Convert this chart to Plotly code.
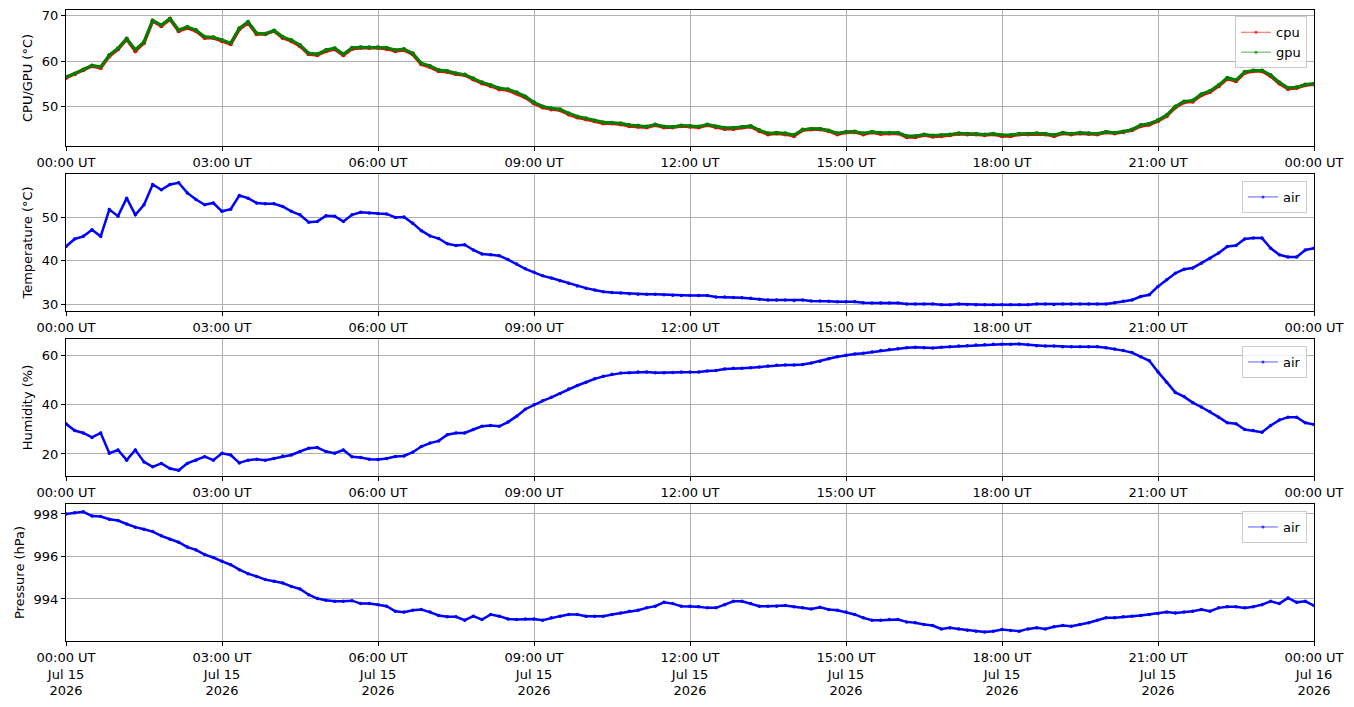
"""Raspberry Pi sensor log for one day: CPU/GPU, air temperature, humidity and pressure."""

import pandas as pd
import plotly.graph_objects as go
from plotly.subplots import make_subplots

# samples every 10 minutes, 2026-07-15 00:00 UT to 2026-07-16 00:00 UT
times = pd.date_range("2026-07-15 00:00", periods=145, freq="10min")

cpu = [
    56.4, 57.2, 58.1, 59.0, 58.6, 61.2,
    62.7, 64.9, 62.3, 64.1, 68.9, 67.8,
    69.3, 66.7, 67.4, 66.7, 65.2, 65.2,
    64.5, 63.8, 67.1, 68.5, 66.0, 66.0,
    66.7, 65.2, 64.5, 63.4, 61.6, 61.4,
    62.3, 62.7, 61.4, 62.8, 63.0, 63.0,
    63.0, 62.8, 62.3, 62.5, 61.6, 59.4,
    58.8, 57.9, 57.7, 57.2, 57.0, 56.1,
    55.2, 54.6, 53.9, 53.7, 53.0, 52.1,
    50.8, 49.9, 49.5, 49.3, 48.4, 47.7,
    47.3, 46.9, 46.4, 46.4, 46.2, 45.8,
    45.7, 45.5, 46.0, 45.5, 45.5, 45.8,
    45.7, 45.5, 46.0, 45.5, 45.2, 45.2,
    45.5, 45.7, 44.7, 44.0, 44.2, 44.0,
    43.6, 44.9, 45.1, 45.1, 44.7, 44.0,
    44.4, 44.5, 44.0, 44.4, 44.1, 44.2,
    44.2, 43.4, 43.4, 43.8, 43.5, 43.6,
    43.8, 44.1, 44.0, 44.0, 43.8, 44.0,
    43.6, 43.6, 44.0, 44.0, 44.1, 44.0,
    43.6, 44.2, 44.0, 44.2, 44.1, 44.0,
    44.4, 44.2, 44.5, 44.9, 45.8, 46.1,
    46.9, 48.0, 49.9, 51.0, 51.2, 52.6,
    53.3, 54.6, 56.2, 55.7, 57.5, 57.9,
    57.9, 56.8, 55.2, 54.0, 54.2, 54.8,
    55.0,
]

gpu = [
    56.6, 57.3, 58.2, 59.1, 58.8, 61.4,
    62.9, 65.0, 62.6, 64.3, 69.0, 68.0,
    69.4, 66.9, 67.6, 66.9, 65.4, 65.3,
    64.7, 64.0, 67.3, 68.7, 66.2, 66.1,
    66.8, 65.4, 64.7, 63.6, 61.8, 61.6,
    62.5, 62.9, 61.6, 63.0, 63.1, 63.1,
    63.1, 63.0, 62.5, 62.7, 61.8, 59.6,
    59.0, 58.1, 57.9, 57.4, 57.1, 56.3,
    55.4, 54.8, 54.1, 53.9, 53.2, 52.3,
    51.0, 50.1, 49.7, 49.5, 48.6, 47.9,
    47.5, 47.0, 46.6, 46.5, 46.4, 46.0,
    45.9, 45.7, 46.1, 45.7, 45.6, 45.9,
    45.8, 45.7, 46.1, 45.7, 45.4, 45.4,
    45.6, 45.8, 44.9, 44.2, 44.3, 44.2,
    43.8, 45.0, 45.2, 45.2, 44.8, 44.2,
    44.5, 44.6, 44.2, 44.5, 44.3, 44.3,
    44.3, 43.6, 43.6, 43.9, 43.7, 43.8,
    43.9, 44.2, 44.1, 44.1, 43.9, 44.1,
    43.8, 43.8, 44.1, 44.1, 44.2, 44.1,
    43.8, 44.3, 44.1, 44.3, 44.2, 44.1,
    44.5, 44.3, 44.6, 45.0, 46.0, 46.3,
    47.1, 48.2, 50.1, 51.2, 51.4, 52.8,
    53.5, 54.8, 56.4, 55.9, 57.7, 58.0,
    58.0, 57.0, 55.4, 54.2, 54.3, 54.9,
    55.1,
]

temperature = [
    43.3, 45.0, 45.6, 47.1, 45.6, 51.7,
    50.2, 54.3, 50.5, 52.8, 57.4, 56.2,
    57.4, 57.8, 55.5, 54.0, 52.8, 53.2,
    51.3, 51.8, 54.9, 54.3, 53.2, 53.0,
    53.0, 52.4, 51.3, 50.5, 48.8, 49.0,
    50.3, 50.2, 49.0, 50.5, 51.1, 50.9,
    50.8, 50.7, 49.9, 50.0, 48.6, 46.9,
    45.7, 45.1, 43.9, 43.5, 43.7, 42.5,
    41.6, 41.4, 41.2, 40.3, 39.3, 38.2,
    37.4, 36.6, 36.1, 35.5, 34.9, 34.3,
    33.8, 33.4, 33.0, 32.8, 32.7, 32.5,
    32.4, 32.4, 32.4, 32.3, 32.2, 32.1,
    32.1, 32.1, 32.1, 31.8, 31.8, 31.7,
    31.6, 31.5, 31.3, 31.1, 31.1, 31.1,
    31.0, 31.1, 30.9, 30.9, 30.8, 30.7,
    30.7, 30.7, 30.5, 30.4, 30.4, 30.4,
    30.4, 30.2, 30.2, 30.2, 30.2, 30.0,
    30.0, 30.2, 30.1, 30.0, 30.0, 30.0,
    30.0, 30.0, 30.0, 30.0, 30.2, 30.2,
    30.1, 30.2, 30.2, 30.2, 30.2, 30.2,
    30.2, 30.5, 30.8, 31.1, 31.9, 32.3,
    34.2, 35.7, 37.2, 38.1, 38.4, 39.5,
    40.6, 41.8, 43.3, 43.5, 45.0, 45.2,
    45.2, 42.9, 41.4, 40.9, 40.9, 42.5,
    42.9,
]

humidity = [
    32.2, 29.5, 28.5, 26.7, 28.5, 20.3,
    21.6, 17.5, 21.6, 16.8, 14.8, 16.2,
    14.1, 13.4, 16.2, 17.5, 18.9, 17.5,
    20.3, 19.6, 16.4, 17.5, 17.9, 17.5,
    18.2, 19.2, 19.6, 21.0, 22.3, 22.6,
    21.0, 20.3, 21.6, 18.9, 18.6, 17.9,
    17.8, 18.2, 19.0, 19.2, 20.7, 23.0,
    24.4, 25.3, 27.8, 28.5, 28.5, 29.9,
    31.2, 31.5, 31.2, 32.9, 35.3, 38.1,
    39.9, 41.5, 42.9, 44.5, 46.3, 47.7,
    49.0, 50.4, 51.4, 52.2, 52.7, 52.9,
    53.2, 53.2, 52.9, 52.9, 53.0, 53.2,
    53.2, 53.2, 53.6, 53.8, 54.4, 54.7,
    54.7, 54.9, 55.2, 55.6, 55.9, 56.0,
    56.0, 56.2, 56.8, 57.5, 58.5, 59.3,
    59.9, 60.4, 60.7, 61.2, 61.8, 62.3,
    62.6, 63.0, 63.2, 63.0, 62.9, 63.2,
    63.4, 63.7, 63.8, 64.1, 64.2, 64.4,
    64.4, 64.4, 64.5, 64.2, 63.8, 63.7,
    63.7, 63.4, 63.4, 63.4, 63.4, 63.4,
    63.0, 62.5, 61.8, 61.0, 59.3, 57.7,
    53.2, 49.0, 44.9, 43.2, 40.8, 39.0,
    37.1, 34.9, 32.6, 32.2, 29.9, 29.5,
    28.8, 31.5, 33.7, 34.9, 34.9, 32.6,
    31.9,
]

pressure = [
    998.00, 998.06, 998.10, 997.90, 997.88, 997.75,
    997.69, 997.53, 997.38, 997.28, 997.17, 996.97,
    996.81, 996.67, 996.44, 996.31, 996.09, 995.95,
    995.77, 995.61, 995.38, 995.19, 995.06, 994.91,
    994.83, 994.75, 994.59, 994.47, 994.20, 994.02,
    993.94, 993.89, 993.89, 993.92, 993.78, 993.78,
    993.73, 993.66, 993.42, 993.38, 993.47, 993.50,
    993.38, 993.22, 993.16, 993.16, 993.00, 993.19,
    993.03, 993.27, 993.19, 993.06, 993.03, 993.06,
    993.06, 993.00, 993.11, 993.19, 993.27, 993.27,
    993.19, 993.19, 993.19, 993.27, 993.34, 993.42,
    993.47, 993.58, 993.66, 993.84, 993.78, 993.66,
    993.66, 993.63, 993.58, 993.58, 993.73, 993.89,
    993.89, 993.78, 993.66, 993.66, 993.66, 993.69,
    993.63, 993.58, 993.53, 993.61, 993.50, 993.47,
    993.38, 993.27, 993.11, 993.00, 993.00, 993.03,
    993.03, 992.92, 992.88, 992.80, 992.75, 992.59,
    992.64, 992.59, 992.53, 992.48, 992.44, 992.48,
    992.56, 992.52, 992.48, 992.59, 992.64, 992.59,
    992.69, 992.75, 992.72, 992.80, 992.88, 993.00,
    993.11, 993.11, 993.16, 993.19, 993.22, 993.27,
    993.31, 993.38, 993.34, 993.38, 993.42, 993.50,
    993.42, 993.58, 993.63, 993.63, 993.58, 993.63,
    993.73, 993.89, 993.78, 994.05, 993.84, 993.89,
    993.69,
]

tick_times = pd.date_range("2026-07-15 00:00", "2026-07-16 00:00", freq="3h")
tick_text = [t.strftime("%H:%M UT") for t in tick_times]
tick_text_bottom = [t.strftime("%H:%M UT<br>%b %d<br>%Y") for t in tick_times]

FONT = "DejaVu Sans"
GRID = "#b0b0b0"


def add_series(fig, row, y, name, color, legend, width):
    # thick band of dots for the data, thin line+dot for the legend key
    fig.add_trace(go.Scatter(
        x=times, y=y, mode="lines+markers", name=name,
        line={"color": color, "width": width},
        marker={"color": color, "size": width + 1},
        showlegend=False,
    ), row=row, col=1)
    fig.add_trace(go.Scatter(
        x=[None], y=[None], mode="lines+markers", name=name,
        line={"color": color, "width": 0.8},
        marker={"color": color, "size": 3},
        opacity=0.8, legend=legend,
    ), row=row, col=1)


def main():
    fig = make_subplots(rows=4, cols=1)

    add_series(fig, 1, cpu, "cpu", "red", "legend", 3.5)
    add_series(fig, 1, gpu, "gpu", "green", "legend", 3)
    add_series(fig, 2, temperature, "air", "blue", "legend2", 2.5)
    add_series(fig, 3, humidity, "air", "blue", "legend3", 2.5)
    add_series(fig, 4, pressure, "air", "blue", "legend4", 2.5)

    domains = [[0.7845, 1.0], [0.523, 0.7401], [0.2615, 0.4786], [0.0, 0.2171]]
    y_ranges = [[41.4, 71.3], [28.6, 59.8], [11.1, 66.5], [992.02, 998.47]]
    y_ticks = [[50, 60, 70], [30, 40, 50], [20, 40, 60], [994, 996, 998]]
    y_titles = ["CPU/GPU (°C)", "Temperature (°C)", "Humidity (%)", "Pressure (hPa)"]
    legend_tops = [0.99, 0.729, 0.4675, 0.206]

    axis_style = dict(
        showline=True, linecolor="black", linewidth=1, mirror=True,
        ticks="outside", ticklen=4, tickcolor="black",
        showgrid=True, gridcolor=GRID, gridwidth=0.8,
        zeroline=False, automargin=False,
        tickfont={"size": 13, "color": "black"},
    )

    layout = {}
    for i in range(4):
        suffix = "" if i == 0 else str(i + 1)
        layout["xaxis" + suffix] = dict(
            axis_style,
            range=[tick_times[0], tick_times[-1]],
            tickvals=list(tick_times),
            ticktext=tick_text_bottom if i == 3 else tick_text,
        )
        layout["yaxis" + suffix] = dict(
            axis_style,
            domain=domains[i],
            range=y_ranges[i],
            tickvals=y_ticks[i],
            title={"text": y_titles[i], "font": {"size": 13}, "standoff": 6},
        )
        layout["legend" + suffix] = dict(
            x=0.9944, y=legend_tops[i], xanchor="right", yanchor="top",
            bgcolor="rgba(255,255,255,0.8)", bordercolor="#cccccc",
            borderwidth=1, font={"size": 13, "color": "black"},
            itemwidth=30, tracegroupgap=0,
        )

    # the page body adds an 8px offset, so the figure is 8px smaller
    fig.update_layout(
        width=1346, height=699,
        margin={"l": 58, "r": 40, "t": 2, "b": 66},
        paper_bgcolor="white", plot_bgcolor="white",
        font={"family": FONT, "size": 13, "color": "black"},
        **layout,
    )

    fig.write_html("out.html")


if __name__ == "__main__":
    main()
